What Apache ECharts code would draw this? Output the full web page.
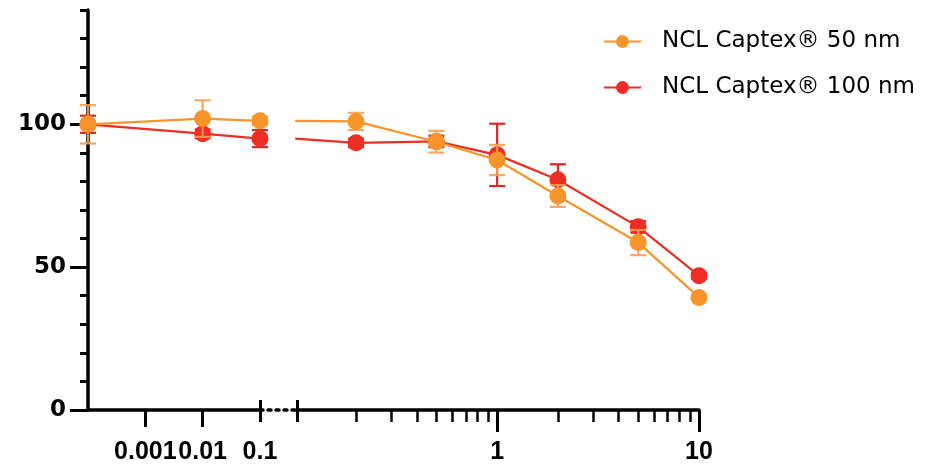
<!DOCTYPE html>
<html>
<head>
<meta charset="utf-8">
<script src="https://cdn.jsdelivr.net/npm/echarts@6/dist/echarts.min.js"></script>
<style>html,body{margin:0;padding:0;background:#fff;}#c{width:933px;height:464px;}</style>
</head>
<body>
<div id="c"></div>
<script>
// ---- data ----
const doses = [0.0001, 0.01, 0.1, 0.2, 0.5, 1, 2, 5, 10];
const mean50 = [100, 102, 101.2, 101, 93.9, 87.5, 74.9, 58.6, 39.4];
const sd50 = [6.7, 6.4, 1.5, 3, 3.8, 5.3, 3.8, 4.4, 0.8];
const mean100 = [100, 96.7, 95, 93.5, 94, 89.3, 80.6, 64.1, 47];
const sd100 = [3, 1.5, 3, 1.5, 2, 10.9, 5.4, 2, 1];
const seriesNames = ['NCL Captex® 50 nm', 'NCL Captex® 100 nm'];
const leftTickLabels = [0.001, 0.01, 0.1];
const leftTicks = [0.001, 0.01];
const rightTickLabels = [1, 10];
const rightMinorTicks = [0.2, 0.3, 0.4, 0.5, 0.6, 0.7, 0.8, 0.9, 2, 3, 4, 5, 6, 7, 8, 9];
const yTickLabels = [0, 50, 100];
const yMinorTicks = [10, 20, 30, 40, 60, 70, 80, 90, 110, 120, 130, 140];
const breakAt = 0.1;

// ---- build ----
const colors = ['#F7952A', '#EE2D24'];
const errColors = ['rgba(245,160,80,0.9)', '#D92A28'];
function pts(mean, sd, pred) {
  const out = [];
  doses.forEach((d, i) => { if (pred(d)) out.push([d, mean[i], sd[i]]); });
  return out;
}
const leftPred = d => d <= breakAt;
const rightPred = d => d >= breakAt;
const rightErrPred = d => d > breakAt;
const means = [mean50, mean100];
const sds = [sd50, sd100];

function errSeries(k, data, xi, yi) {
  return {
    type: 'custom', xAxisIndex: xi, yAxisIndex: yi, z: 3 + (k === 0 ? 2 : 0),
    data: data, encode: { x: 0, y: 1 }, silent: true, clip: false,
    renderItem: function (params, api) {
      const x = api.value(0), y = api.value(1), e = api.value(2);
      const top = api.coord([x, y + e]);
      const bot = api.coord([x, y - e]);
      const hw = 8;
      const st = { stroke: errColors[k], lineWidth: 2.2 };
      return { type: 'group', children: [
        { type: 'line', shape: { x1: top[0], y1: top[1], x2: bot[0], y2: bot[1] }, style: st },
        { type: 'line', shape: { x1: top[0] - hw, y1: top[1], x2: top[0] + hw, y2: top[1] }, style: st },
        { type: 'line', shape: { x1: bot[0] - hw, y1: bot[1], x2: bot[0] + hw, y2: bot[1] }, style: st }
      ]};
    }
  };
}
function lineSeries(k, data, xi, yi) {
  return {
    name: seriesNames[k], type: 'line', xAxisIndex: xi, yAxisIndex: yi,
    data: data.map(p => [p[0], p[1]]), symbol: 'circle', symbolSize: 17, clip: true,
    z: 4 + (k === 0 ? 2 : 0),
    lineStyle: { color: colors[k], width: 2.2 }, itemStyle: { color: colors[k] }
  };
}

const series = [];
[1, 0].forEach(k => {
  series.push(errSeries(k, pts(means[k], sds[k], leftPred), 0, 0));
  series.push(errSeries(k, pts(means[k], sds[k], rightErrPred), 1, 2));
  series.push(lineSeries(k, pts(means[k], sds[k], leftPred), 0, 0));
  series.push(lineSeries(k, pts(means[k], sds[k], rightPred), 1, 2));
});

const fmt = v => String(+Number(v).toPrecision(6));
const xLabelStyle = { color: '#000', fontFamily: 'Liberation Sans', fontWeight: 'bold', fontSize: 25, margin: 30, hideOverlap: false };
const axisBlack = { color: '#000', width: 3.5 };

const option = {
  animation: false,
  backgroundColor: '#fff',
  legend: {
    data: seriesNames, orient: 'vertical', left: 598, top: 25,
    itemWidth: 37, itemHeight: 16, itemGap: 23,
    textStyle: { color: '#000', fontFamily: 'DejaVu Sans', fontSize: 23, padding: [0, 0, 0, 16] }
  },
  grid: [
    { left: 88, top: 10, width: 172, height: 400, outerBoundsMode: 'none', containLabel: false },
    { left: 297, top: 10, width: 402, height: 400, outerBoundsMode: 'none', containLabel: false },
    { left: 260, top: 10, width: 37, height: 400, outerBoundsMode: 'none', containLabel: false }
  ],
  xAxis: [
    { type: 'log', logBase: 10, gridIndex: 0, position: 'bottom', min: 0.0001, max: 0.1,
      axisLine: { lineStyle: axisBlack },
      axisTick: { customValues: leftTicks, length: 17, lineStyle: { color: '#000', width: 3 } },
      axisLabel: Object.assign({ customValues: leftTickLabels, formatter: fmt }, xLabelStyle),
      splitLine: { show: false }, minorTick: { show: false } },
    { type: 'log', logBase: 10, gridIndex: 1, position: 'bottom', min: 0.102, max: 10,
      axisLine: { lineStyle: axisBlack },
      axisTick: { customValues: rightTickLabels, length: 22, lineStyle: { color: '#000', width: 3 } },
      axisLabel: Object.assign({ customValues: rightTickLabels, formatter: fmt }, xLabelStyle),
      splitLine: { show: false } },
    { type: 'log', logBase: 10, gridIndex: 1, position: 'bottom', min: 0.102, max: 10,
      axisLine: { show: false },
      axisTick: { customValues: rightMinorTicks, length: 12, lineStyle: { color: '#000', width: 2.5 } },
      axisLabel: { show: false }, splitLine: { show: false } },
    { type: 'value', gridIndex: 2, position: 'bottom', min: 0, max: 1,
      axisLine: { lineStyle: { color: '#000', width: 3.5, type: [3, 5] } },
      axisTick: { customValues: [0, 1], length: 12, lineStyle: { color: '#000', width: 3 } },
      axisLabel: { show: false }, splitLine: { show: false } },
    { type: 'value', gridIndex: 2, position: 'bottom', min: 0, max: 1,
      axisLine: { show: false },
      axisTick: { customValues: [0, 1], inside: true, length: 10, lineStyle: { color: '#000', width: 3 } },
      axisLabel: { show: false }, splitLine: { show: false } }
  ],
  yAxis: [
    { type: 'value', gridIndex: 0, position: 'left', min: 0, max: 140, interval: 10,
      axisLine: { show: true, lineStyle: axisBlack },
      axisTick: { customValues: yTickLabels, length: 18, lineStyle: { color: '#000', width: 3 } },
      axisLabel: { customValues: yTickLabels, color: '#000', fontFamily: 'DejaVu Sans', fontWeight: 'bold', fontSize: 23, margin: 22 },
      splitLine: { show: false } },
    { type: 'value', gridIndex: 0, position: 'left', min: 0, max: 140, interval: 10,
      axisLine: { show: false },
      axisTick: { customValues: yMinorTicks, length: 8, lineStyle: { color: '#000', width: 3 } },
      axisLabel: { show: false }, splitLine: { show: false } },
    { type: 'value', gridIndex: 1, min: 0, max: 140, show: false },
    { type: 'value', gridIndex: 2, min: 0, max: 140, show: false }
  ],
  series: series
};
echarts.init(document.getElementById('c'), null, { renderer: 'canvas' }).setOption(option);
</script>
</body>
</html>
